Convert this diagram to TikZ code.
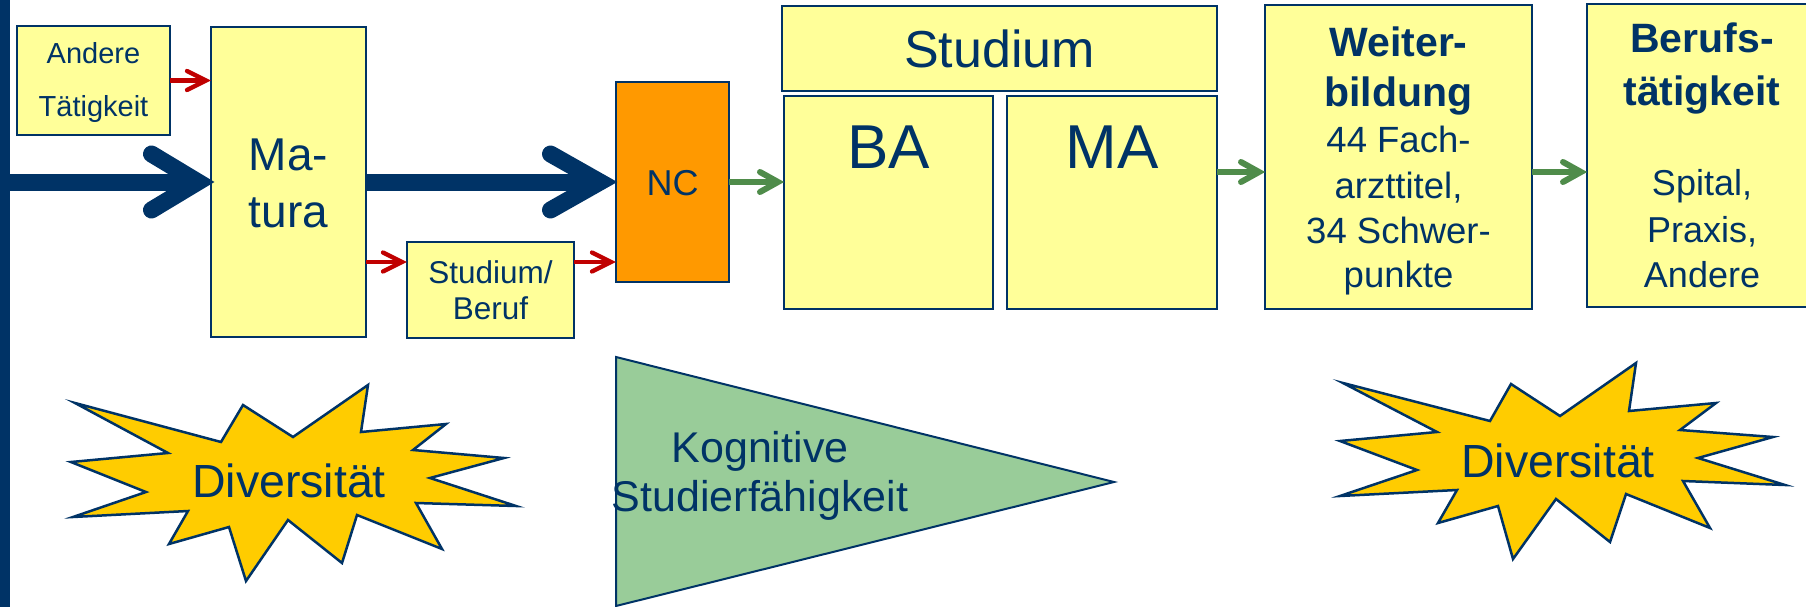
\documentclass[tikz,border=0pt]{standalone}
\usepackage{fontspec}
\setmainfont{Liberation Sans}
\usetikzlibrary{calc}
\definecolor{navy}{RGB}{0,51,102}
\definecolor{boxyellow}{RGB}{255,255,153}
\definecolor{ncorange}{RGB}{255,153,0}
\definecolor{staryellow}{RGB}{255,204,0}
\definecolor{trigreen}{RGB}{153,204,153}
\definecolor{arrred}{RGB}{192,0,0}
\definecolor{arrgreen}{RGB}{79,140,74}
\newcommand{\fsz}[1]{\fontsize{#1}{#1}\selectfont}
\newcommand{\headat}[4]{\draw[#1] ([shift={(-#3,-#4)}]#2) -- (#2) -- ([shift={(-#3,#4)}]#2);}
\begin{document}
\begin{tikzpicture}[x=1pt,y=-1pt,
  box/.style={draw=navy, fill=boxyellow, line width=2.5pt, inner sep=0pt, outer sep=0pt},
  txt/.style={anchor=base, inner sep=0pt, outer sep=0pt, text=navy},
  bigshaft/.style={draw=navy, line width=17pt, line cap=butt},
  bighead/.style={draw=navy, line width=17pt, line cap=round, line join=miter},
  redshaft/.style={draw=arrred, line width=4.3pt, line cap=butt},
  redhead/.style={draw=arrred, line width=4.3pt, line cap=round, line join=miter},
  grnshaft/.style={draw=arrgreen, line width=6pt, line cap=butt},
  grnhead/.style={draw=arrgreen, line width=6pt, line cap=round, line join=miter},
  burst/.style={draw=navy, fill=staryellow, line width=2.5pt, line join=miter},
]
\useasboundingbox (0,0) rectangle (1806,607);

% left bar
\node[fill=navy, inner sep=0pt, outer sep=0pt, minimum width=10pt, minimum height=607pt, anchor=north west] (bar) at (0,0) {};

% boxes
\node[box, minimum width=153pt, minimum height=109pt] (andere) at (93.5,80.5) {};
\node[box, minimum width=155pt, minimum height=310pt] (matura) at (288.5,182) {};
\node[box, minimum width=167pt, minimum height=96pt] (sb) at (490.5,290) {};
\node[box, fill=ncorange, minimum width=113pt, minimum height=200pt] (nc) at (672.5,182) {};
\node[box, minimum width=435pt, minimum height=85pt] (studium) at (999.5,48.5) {};
\node[box, minimum width=209pt, minimum height=213pt] (ba) at (888.5,202.5) {};
\node[box, minimum width=210pt, minimum height=213pt] (ma) at (1112,202.5) {};
\node[box, minimum width=267pt, minimum height=304pt] (weiter) at (1398.5,157) {};
\node[box, minimum width=231pt, minimum height=303pt] (berufs) at (1702.5,155.5) {};

% texts
\node[txt, font=\fsz{29}] (tA1) at (93.5,64) {Andere};
\node[txt, font=\fsz{29}] (tA2) at (93.5,117) {Tätigkeit};
\node[txt, font=\fsz{46}] (tM1) at (288.5,170) {Ma-};
\node[txt, font=\fsz{46}] (tM2) at (288.5,227) {tura};
\node[txt, font=\fsz{31.5}] (tS1) at (490.5,283) {Studium/};
\node[txt, font=\fsz{31.5}] (tS2) at (490.5,319) {Beruf};
\node[txt, font=\fsz{36}] (tNC) at (672.5,195) {NC};
\node[txt, font=\fsz{52}] (tSt) at (999.5,68) {Studium};
\node[txt, font=\fsz{62}] (tBA) at (888.5,168) {BA};
\node[txt, font=\fsz{62}] (tMA) at (1112,168) {MA};
\node[txt, font=\bfseries\fsz{41}] (tW1) at (1398.5,57) {Weiter-};
\node[txt, font=\bfseries\fsz{41}] (tW2) at (1398.5,107) {bildung};
\node[txt, font=\fsz{36.5}] (tW3) at (1398.5,153) {44 Fach-};
\node[txt, font=\fsz{36.5}] (tW4) at (1398.5,198) {arzttitel,};
\node[txt, font=\fsz{36.5}] (tW5) at (1398.5,243) {34 Schwer-};
\node[txt, font=\fsz{36.5}] (tW6) at (1398.5,287) {punkte};
\node[txt, font=\bfseries\fsz{41}] (tB1) at (1702,53) {Berufs-};
\node[txt, font=\bfseries\fsz{41}] (tB2) at (1702,106) {tätigkeit};
\node[txt, font=\fsz{36}] (tB3) at (1702,195) {Spital,};
\node[txt, font=\fsz{36}] (tB4) at (1702,242) {Praxis,};
\node[txt, font=\fsz{36}] (tB5) at (1702,287) {Andere};

% big blue arrows
\coordinate (v1) at ([shift={(-13,0)}]matura.west);
\draw[bigshaft] (bar.east |- matura.west) -- (v1);
\headat{bighead}{v1}{46.5}{28}
\coordinate (v2) at ([shift={(-16,0)}]nc.west);
\draw[bigshaft] (matura.east |- nc.west) -- (v2);
\headat{bighead}{v2}{49.5}{28}

% red arrows
\coordinate (r1) at ([shift={(-5,0)}]matura.west |- andere.east);
\draw[redshaft] (andere.east) -- (r1);
\headat{redhead}{r1}{19}{9.5}
\coordinate (sbin) at ([shift={(0,20)}]sb.north west);
\coordinate (r2) at ([shift={(-5,0)}]sbin);
\draw[redshaft] (matura.east |- sbin) -- (r2);
\headat{redhead}{r2}{19}{9.5}
\coordinate (r3) at ([shift={(-5,0)}]nc.west |- sbin);
\draw[redshaft] (sb.east |- sbin) -- (r3);
\headat{redhead}{r3}{19}{9.5}

% green arrows
\coordinate (g1) at ([shift={(-6,0)}]ba.west |- nc.east);
\draw[grnshaft] (nc.east) -- (g1);
\headat{grnhead}{g1}{18}{10}
\coordinate (gy) at (1240,172);
\coordinate (g2) at ([shift={(-6,0)}]weiter.west |- gy);
\draw[grnshaft] (ma.east |- gy) -- (g2);
\headat{grnhead}{g2}{18}{10}
\coordinate (g3) at ([shift={(-6,0)}]berufs.west |- gy);
\draw[grnshaft] (weiter.east |- gy) -- (g3);
\headat{grnhead}{g3}{18}{10}

% starbursts
\draw[burst] (75,403) -- (221,442) -- (243,405) -- (293,437) -- (368,385) -- (361,432) -- (446,424) -- (413,450) -- (504,458) -- (430,478) -- (516,506) -- (416,503) -- (442,549) -- (357,515) -- (342,563) -- (288,520) -- (246,581) -- (229,527) -- (169,544) -- (188,511) -- (73,517) -- (146,492) -- (71,462) -- (168,453) -- cycle;
\node[txt, font=\fsz{46.5}] (tD1) at (289,497) {Diversität};
\draw[burst] (1343,383) -- (1490,421) -- (1511,384) -- (1560,416) -- (1636,363) -- (1629,411) -- (1716,403) -- (1680,430) -- (1773,437) -- (1698,458) -- (1785,485) -- (1683,481) -- (1710,528) -- (1626,494) -- (1610,542) -- (1556,499) -- (1513,559) -- (1498,506) -- (1438,523) -- (1457,490) -- (1340,496) -- (1417,470) -- (1340,441) -- (1437,432) -- cycle;
\node[txt, font=\fsz{46.5}] (tD2) at (1558,477) {Diversität};

% triangle
\draw[draw=navy, fill=trigreen, line width=2pt, line join=miter] (616,357) -- (1114,482) -- (616,606) -- cycle;
\node[txt, font=\fsz{43}] (tK1) at (760,462) {Kognitive};
\node[txt, font=\fsz{43}] (tK2) at (760,511) {Studierfähigkeit};
\end{tikzpicture}
\end{document}
